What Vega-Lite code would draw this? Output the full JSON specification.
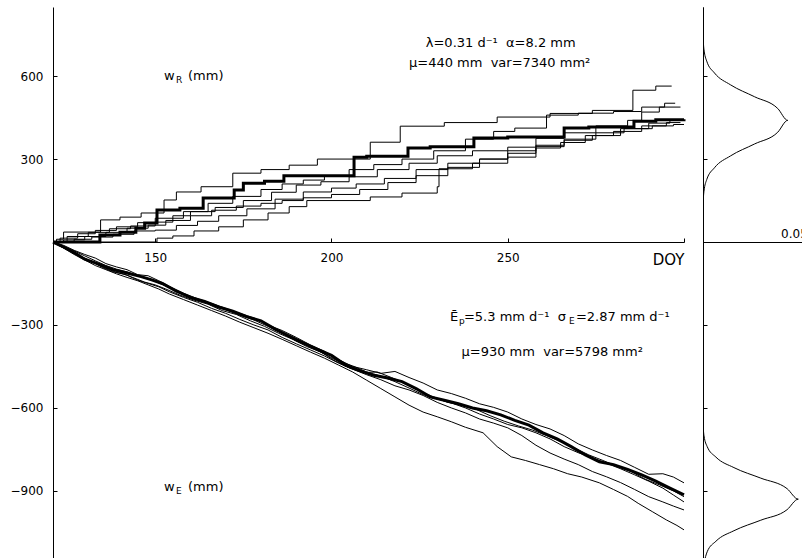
{
  "$schema": "https://vega.github.io/schema/vega-lite/v6.json",
  "autosize": "pad",
  "padding": {"left": 10, "top": 7, "right": 0, "bottom": 0},
  "bounds": "flush",
  "spacing": 19,
  "background": "white",
  "config": {
    "view": {"stroke": null},
    "axis": {"grid": false, "domainColor": "black", "domainWidth": 1, "tickColor": "black", "tickWidth": 1, "labelColor": "black", "labelFont": "DejaVu Sans", "labelFontSize": 12, "labelFlush": false, "labelOverlap": false},
    "text": {"font": "DejaVu Sans", "fontSize": 13, "color": "black"},
    "line": {"color": "black"}
  },
  "datasets": {
    "R": [
      {"s":"R0","d":121,"w":0},{"s":"R0","d":134.3,"w":25},{"s":"R0","d":140,"w":35},{"s":"R0","d":144.5,"w":50},{"s":"R0","d":147,"w":69},{"s":"R0","d":150.5,"w":116},{"s":"R0","d":157,"w":122},{"s":"R0","d":163.6,"w":159},{"s":"R0","d":172.4,"w":188},{"s":"R0","d":175,"w":213},{"s":"R0","d":181,"w":220},{"s":"R0","d":186.5,"w":240},{"s":"R0","d":206.4,"w":307},{"s":"R0","d":210,"w":310},{"s":"R0","d":221.7,"w":340},{"s":"R0","d":228,"w":345},{"s":"R0","d":240.4,"w":376},{"s":"R0","d":250,"w":380},{"s":"R0","d":266,"w":412},{"s":"R0","d":273,"w":416},{"s":"R0","d":285.8,"w":437},{"s":"R0","d":292,"w":442},{"s":"R0","d":300,"w":444},
      {"s":"R1","d":121,"w":0},{"s":"R1","d":122,"w":10},{"s":"R1","d":124,"w":36},{"s":"R1","d":134.5,"w":80},{"s":"R1","d":140,"w":90},{"s":"R1","d":146,"w":105},{"s":"R1","d":152.5,"w":152},{"s":"R1","d":156,"w":181},{"s":"R1","d":163,"w":200},{"s":"R1","d":172,"w":249},{"s":"R1","d":180,"w":262},{"s":"R1","d":188,"w":278},{"s":"R1","d":196,"w":300},{"s":"R1","d":211,"w":361},{"s":"R1","d":219.5,"w":419},{"s":"R1","d":232,"w":432},{"s":"R1","d":247,"w":452},{"s":"R1","d":262,"w":465},{"s":"R1","d":274,"w":476},{"s":"R1","d":285.5,"w":549},{"s":"R1","d":292,"w":564},{"s":"R1","d":296.5,"w":564},
      {"s":"R2","d":121,"w":0},{"s":"R2","d":123,"w":14},{"s":"R2","d":128,"w":30},{"s":"R2","d":133,"w":42},{"s":"R2","d":139,"w":55},{"s":"R2","d":145,"w":70},{"s":"R2","d":150,"w":86},{"s":"R2","d":158,"w":110},{"s":"R2","d":165,"w":140},{"s":"R2","d":172,"w":165},{"s":"R2","d":180,"w":190},{"s":"R2","d":186,"w":210},{"s":"R2","d":192,"w":224},{"s":"R2","d":198,"w":240},{"s":"R2","d":205,"w":262},{"s":"R2","d":212,"w":280},{"s":"R2","d":220,"w":300},{"s":"R2","d":229,"w":330},{"s":"R2","d":238,"w":372},{"s":"R2","d":246,"w":400},{"s":"R2","d":252,"w":412},{"s":"R2","d":261,"w":459},{"s":"R2","d":270,"w":466},{"s":"R2","d":280,"w":472},{"s":"R2","d":288,"w":488},{"s":"R2","d":294.5,"w":502},{"s":"R2","d":297.5,"w":502},
      {"s":"R3","d":121,"w":0},{"s":"R3","d":125,"w":20},{"s":"R3","d":131,"w":35},{"s":"R3","d":137,"w":48},{"s":"R3","d":143,"w":58},{"s":"R3","d":150,"w":72},{"s":"R3","d":155,"w":95},{"s":"R3","d":160,"w":110},{"s":"R3","d":167,"w":125},{"s":"R3","d":175,"w":150},{"s":"R3","d":183,"w":180},{"s":"R3","d":190,"w":206},{"s":"R3","d":197,"w":218},{"s":"R3","d":205,"w":236},{"s":"R3","d":213,"w":262},{"s":"R3","d":222,"w":285},{"s":"R3","d":230,"w":312},{"s":"R3","d":240,"w":330},{"s":"R3","d":250,"w":343},{"s":"R3","d":258,"w":375},{"s":"R3","d":266,"w":395},{"s":"R3","d":275,"w":420},{"s":"R3","d":284,"w":440},{"s":"R3","d":288,"w":470},{"s":"R3","d":293,"w":488},{"s":"R3","d":299,"w":488},
      {"s":"R4","d":121,"w":0},{"s":"R4","d":127,"w":10},{"s":"R4","d":132,"w":18},{"s":"R4","d":138,"w":28},{"s":"R4","d":144,"w":40},{"s":"R4","d":150,"w":43},{"s":"R4","d":156,"w":60},{"s":"R4","d":162,"w":75},{"s":"R4","d":168,"w":95},{"s":"R4","d":176,"w":120},{"s":"R4","d":184,"w":155},{"s":"R4","d":192,"w":181},{"s":"R4","d":200,"w":195},{"s":"R4","d":207,"w":210},{"s":"R4","d":215,"w":230},{"s":"R4","d":224,"w":262},{"s":"R4","d":233,"w":285},{"s":"R4","d":242,"w":300},{"s":"R4","d":250,"w":321},{"s":"R4","d":258,"w":345},{"s":"R4","d":266,"w":368},{"s":"R4","d":274,"w":385},{"s":"R4","d":282,"w":410},{"s":"R4","d":290,"w":430},{"s":"R4","d":296,"w":440},{"s":"R4","d":298,"w":440},
      {"s":"R5","d":121,"w":0},{"s":"R5","d":150,"w":0},{"s":"R5","d":150.5,"w":14},{"s":"R5","d":155,"w":22},{"s":"R5","d":161,"w":40},{"s":"R5","d":168,"w":55},{"s":"R5","d":175,"w":80},{"s":"R5","d":182,"w":105},{"s":"R5","d":188,"w":128},{"s":"R5","d":193,"w":150},{"s":"R5","d":211,"w":163},{"s":"R5","d":220,"w":177},{"s":"R5","d":230,"w":200},{"s":"R5","d":230.5,"w":265},{"s":"R5","d":240,"w":285},{"s":"R5","d":250,"w":307},{"s":"R5","d":258,"w":340},{"s":"R5","d":265,"w":360},{"s":"R5","d":272,"w":385},{"s":"R5","d":280,"w":400},{"s":"R5","d":288,"w":420},{"s":"R5","d":295,"w":432},{"s":"R5","d":299,"w":432},
      {"s":"R6","d":121,"w":0},{"s":"R6","d":124,"w":8},{"s":"R6","d":130,"w":20},{"s":"R6","d":136,"w":35},{"s":"R6","d":142,"w":50},{"s":"R6","d":148,"w":61},{"s":"R6","d":153,"w":78},{"s":"R6","d":160,"w":95},{"s":"R6","d":166,"w":115},{"s":"R6","d":173,"w":130},{"s":"R6","d":180,"w":140},{"s":"R6","d":186,"w":150},{"s":"R6","d":192,"w":160},{"s":"R6","d":200,"w":172},{"s":"R6","d":208,"w":190},{"s":"R6","d":216,"w":215},{"s":"R6","d":224,"w":240},{"s":"R6","d":233,"w":270},{"s":"R6","d":242,"w":300},{"s":"R6","d":250,"w":330},{"s":"R6","d":258,"w":350},{"s":"R6","d":266,"w":372},{"s":"R6","d":275,"w":395},{"s":"R6","d":283,"w":410},{"s":"R6","d":291,"w":420},{"s":"R6","d":297,"w":425},{"s":"R6","d":300,"w":425}
    ],
    "E": [
      {"s":"E0","d":121,"w":0},{"s":"E0","d":124,"w":-18},{"s":"E0","d":127,"w":-38},{"s":"E0","d":130,"w":-62},{"s":"E0","d":134,"w":-80},{"s":"E0","d":138,"w":-100},{"s":"E0","d":142,"w":-112},{"s":"E0","d":146,"w":-125},{"s":"E0","d":149,"w":-137},{"s":"E0","d":152,"w":-150},{"s":"E0","d":156,"w":-178},{"s":"E0","d":160,"w":-200},{"s":"E0","d":164,"w":-215},{"s":"E0","d":168,"w":-235},{"s":"E0","d":172,"w":-250},{"s":"E0","d":176,"w":-270},{"s":"E0","d":180,"w":-285},{"s":"E0","d":184,"w":-315},{"s":"E0","d":188,"w":-340},{"s":"E0","d":192,"w":-365},{"s":"E0","d":196,"w":-388},{"s":"E0","d":200,"w":-410},{"s":"E0","d":204,"w":-445},{"s":"E0","d":208,"w":-465},{"s":"E0","d":212,"w":-482},{"s":"E0","d":216,"w":-492},{"s":"E0","d":220,"w":-505},{"s":"E0","d":224,"w":-530},{"s":"E0","d":228,"w":-560},{"s":"E0","d":232,"w":-572},{"s":"E0","d":236,"w":-585},{"s":"E0","d":240,"w":-600},{"s":"E0","d":244,"w":-610},{"s":"E0","d":248,"w":-625},{"s":"E0","d":252,"w":-645},{"s":"E0","d":256,"w":-662},{"s":"E0","d":260,"w":-690},{"s":"E0","d":264,"w":-712},{"s":"E0","d":268,"w":-740},{"s":"E0","d":272,"w":-770},{"s":"E0","d":276,"w":-795},{"s":"E0","d":280,"w":-805},{"s":"E0","d":284,"w":-822},{"s":"E0","d":288,"w":-842},{"s":"E0","d":292,"w":-865},{"s":"E0","d":296,"w":-890},{"s":"E0","d":300,"w":-914},
      {"s":"E1","d":121,"w":0},{"s":"E1","d":124,"w":-12},{"s":"E1","d":127,"w":-30},{"s":"E1","d":130,"w":-45},{"s":"E1","d":133,"w":-58},{"s":"E1","d":136,"w":-78},{"s":"E1","d":139,"w":-90},{"s":"E1","d":142,"w":-100},{"s":"E1","d":145,"w":-118},{"s":"E1","d":148,"w":-122},{"s":"E1","d":151,"w":-140},{"s":"E1","d":154,"w":-160},{"s":"E1","d":158,"w":-185},{"s":"E1","d":162,"w":-205},{"s":"E1","d":166,"w":-222},{"s":"E1","d":170,"w":-240},{"s":"E1","d":174,"w":-258},{"s":"E1","d":178,"w":-275},{"s":"E1","d":182,"w":-300},{"s":"E1","d":186,"w":-320},{"s":"E1","d":190,"w":-345},{"s":"E1","d":194,"w":-372},{"s":"E1","d":198,"w":-395},{"s":"E1","d":202,"w":-425},{"s":"E1","d":206,"w":-450},{"s":"E1","d":210,"w":-462},{"s":"E1","d":214,"w":-475},{"s":"E1","d":218,"w":-468},{"s":"E1","d":222,"w":-490},{"s":"E1","d":226,"w":-510},{"s":"E1","d":230,"w":-535},{"s":"E1","d":234,"w":-548},{"s":"E1","d":238,"w":-565},{"s":"E1","d":242,"w":-585},{"s":"E1","d":246,"w":-598},{"s":"E1","d":250,"w":-615},{"s":"E1","d":254,"w":-640},{"s":"E1","d":258,"w":-660},{"s":"E1","d":262,"w":-676},{"s":"E1","d":266,"w":-700},{"s":"E1","d":270,"w":-730},{"s":"E1","d":274,"w":-752},{"s":"E1","d":278,"w":-772},{"s":"E1","d":282,"w":-790},{"s":"E1","d":286,"w":-815},{"s":"E1","d":290,"w":-840},{"s":"E1","d":294,"w":-838},{"s":"E1","d":297,"w":-850},{"s":"E1","d":300,"w":-871},
      {"s":"E2","d":121,"w":0},{"s":"E2","d":123,"w":-15},{"s":"E2","d":126,"w":-35},{"s":"E2","d":129,"w":-55},{"s":"E2","d":132,"w":-70},{"s":"E2","d":135,"w":-92},{"s":"E2","d":138,"w":-108},{"s":"E2","d":141,"w":-115},{"s":"E2","d":144,"w":-130},{"s":"E2","d":147,"w":-145},{"s":"E2","d":150,"w":-155},{"s":"E2","d":153,"w":-170},{"s":"E2","d":157,"w":-192},{"s":"E2","d":161,"w":-210},{"s":"E2","d":165,"w":-225},{"s":"E2","d":169,"w":-248},{"s":"E2","d":173,"w":-262},{"s":"E2","d":177,"w":-285},{"s":"E2","d":181,"w":-305},{"s":"E2","d":185,"w":-330},{"s":"E2","d":189,"w":-352},{"s":"E2","d":193,"w":-378},{"s":"E2","d":197,"w":-398},{"s":"E2","d":201,"w":-430},{"s":"E2","d":205,"w":-455},{"s":"E2","d":209,"w":-472},{"s":"E2","d":213,"w":-470},{"s":"E2","d":217,"w":-490},{"s":"E2","d":221,"w":-512},{"s":"E2","d":225,"w":-540},{"s":"E2","d":229,"w":-560},{"s":"E2","d":233,"w":-580},{"s":"E2","d":237,"w":-590},{"s":"E2","d":241,"w":-605},{"s":"E2","d":245,"w":-628},{"s":"E2","d":249,"w":-648},{"s":"E2","d":253,"w":-665},{"s":"E2","d":257,"w":-680},{"s":"E2","d":261,"w":-700},{"s":"E2","d":265,"w":-722},{"s":"E2","d":269,"w":-745},{"s":"E2","d":273,"w":-770},{"s":"E2","d":277,"w":-790},{"s":"E2","d":281,"w":-812},{"s":"E2","d":285,"w":-830},{"s":"E2","d":289,"w":-858},{"s":"E2","d":293,"w":-878},{"s":"E2","d":297,"w":-900},{"s":"E2","d":300,"w":-921},
      {"s":"E3","d":121,"w":0},{"s":"E3","d":124,"w":-20},{"s":"E3","d":127,"w":-42},{"s":"E3","d":130,"w":-58},{"s":"E3","d":133,"w":-78},{"s":"E3","d":136,"w":-95},{"s":"E3","d":139,"w":-110},{"s":"E3","d":142,"w":-120},{"s":"E3","d":145,"w":-138},{"s":"E3","d":148,"w":-150},{"s":"E3","d":151,"w":-162},{"s":"E3","d":154,"w":-180},{"s":"E3","d":158,"w":-200},{"s":"E3","d":162,"w":-218},{"s":"E3","d":166,"w":-240},{"s":"E3","d":170,"w":-258},{"s":"E3","d":174,"w":-280},{"s":"E3","d":178,"w":-300},{"s":"E3","d":182,"w":-318},{"s":"E3","d":186,"w":-345},{"s":"E3","d":190,"w":-368},{"s":"E3","d":194,"w":-390},{"s":"E3","d":198,"w":-412},{"s":"E3","d":202,"w":-438},{"s":"E3","d":206,"w":-460},{"s":"E3","d":210,"w":-480},{"s":"E3","d":214,"w":-498},{"s":"E3","d":218,"w":-520},{"s":"E3","d":222,"w":-535},{"s":"E3","d":226,"w":-555},{"s":"E3","d":230,"w":-580},{"s":"E3","d":234,"w":-600},{"s":"E3","d":238,"w":-618},{"s":"E3","d":242,"w":-640},{"s":"E3","d":246,"w":-655},{"s":"E3","d":250,"w":-672},{"s":"E3","d":254,"w":-700},{"s":"E3","d":258,"w":-735},{"s":"E3","d":262,"w":-763},{"s":"E3","d":266,"w":-785},{"s":"E3","d":270,"w":-805},{"s":"E3","d":274,"w":-830},{"s":"E3","d":278,"w":-849},{"s":"E3","d":282,"w":-870},{"s":"E3","d":286,"w":-895},{"s":"E3","d":290,"w":-921},{"s":"E3","d":294,"w":-940},{"s":"E3","d":297,"w":-955},{"s":"E3","d":300,"w":-969},
      {"s":"E4","d":121,"w":0},{"s":"E4","d":124,"w":-22},{"s":"E4","d":127,"w":-45},{"s":"E4","d":130,"w":-65},{"s":"E4","d":133,"w":-85},{"s":"E4","d":136,"w":-100},{"s":"E4","d":139,"w":-115},{"s":"E4","d":142,"w":-128},{"s":"E4","d":145,"w":-140},{"s":"E4","d":148,"w":-155},{"s":"E4","d":151,"w":-170},{"s":"E4","d":154,"w":-188},{"s":"E4","d":158,"w":-208},{"s":"E4","d":162,"w":-228},{"s":"E4","d":166,"w":-248},{"s":"E4","d":170,"w":-268},{"s":"E4","d":174,"w":-290},{"s":"E4","d":178,"w":-310},{"s":"E4","d":182,"w":-330},{"s":"E4","d":186,"w":-352},{"s":"E4","d":190,"w":-375},{"s":"E4","d":194,"w":-398},{"s":"E4","d":198,"w":-420},{"s":"E4","d":202,"w":-445},{"s":"E4","d":206,"w":-470},{"s":"E4","d":210,"w":-500},{"s":"E4","d":214,"w":-530},{"s":"E4","d":218,"w":-560},{"s":"E4","d":222,"w":-590},{"s":"E4","d":226,"w":-615},{"s":"E4","d":230,"w":-632},{"s":"E4","d":234,"w":-650},{"s":"E4","d":238,"w":-670},{"s":"E4","d":243,"w":-690},{"s":"E4","d":247,"w":-740},{"s":"E4","d":251,"w":-777},{"s":"E4","d":255,"w":-790},{"s":"E4","d":259,"w":-805},{"s":"E4","d":263,"w":-820},{"s":"E4","d":267,"w":-838},{"s":"E4","d":271,"w":-850},{"s":"E4","d":276,"w":-871},{"s":"E4","d":280,"w":-895},{"s":"E4","d":284,"w":-920},{"s":"E4","d":287,"w":-945},{"s":"E4","d":291,"w":-975},{"s":"E4","d":295,"w":-1005},{"s":"E4","d":298,"w":-1025},{"s":"E4","d":300,"w":-1041},
      {"s":"E5","d":121,"w":0},{"s":"E5","d":124,"w":-15},{"s":"E5","d":127,"w":-32},{"s":"E5","d":130,"w":-50},{"s":"E5","d":133,"w":-68},{"s":"E5","d":136,"w":-85},{"s":"E5","d":139,"w":-98},{"s":"E5","d":142,"w":-108},{"s":"E5","d":145,"w":-122},{"s":"E5","d":148,"w":-132},{"s":"E5","d":151,"w":-148},{"s":"E5","d":154,"w":-165},{"s":"E5","d":158,"w":-188},{"s":"E5","d":162,"w":-208},{"s":"E5","d":166,"w":-228},{"s":"E5","d":170,"w":-245},{"s":"E5","d":174,"w":-265},{"s":"E5","d":178,"w":-282},{"s":"E5","d":182,"w":-305},{"s":"E5","d":186,"w":-330},{"s":"E5","d":190,"w":-358},{"s":"E5","d":194,"w":-380},{"s":"E5","d":198,"w":-405},{"s":"E5","d":202,"w":-432},{"s":"E5","d":206,"w":-448},{"s":"E5","d":210,"w":-470},{"s":"E5","d":214,"w":-485},{"s":"E5","d":218,"w":-505},{"s":"E5","d":222,"w":-528},{"s":"E5","d":226,"w":-552},{"s":"E5","d":230,"w":-568},{"s":"E5","d":234,"w":-582},{"s":"E5","d":238,"w":-600},{"s":"E5","d":242,"w":-622},{"s":"E5","d":246,"w":-640},{"s":"E5","d":250,"w":-660},{"s":"E5","d":254,"w":-672},{"s":"E5","d":258,"w":-690},{"s":"E5","d":262,"w":-712},{"s":"E5","d":266,"w":-740},{"s":"E5","d":270,"w":-762},{"s":"E5","d":274,"w":-780},{"s":"E5","d":278,"w":-800},{"s":"E5","d":282,"w":-820},{"s":"E5","d":286,"w":-842},{"s":"E5","d":290,"w":-865},{"s":"E5","d":294,"w":-890},{"s":"E5","d":297,"w":-915},{"s":"E5","d":300,"w":-940}
    ],
    "P": [
      {"g":"R","w":0,"p":0},{"g":"R","w":97.2,"p":0.0000156},{"g":"R","w":140.05,"p":0.0001},{"g":"R","w":182.9,"p":0.00052},{"g":"R","w":225.75,"p":0.00205},{"g":"R","w":268.6,"p":0.00631},{"g":"R","w":311.45,"p":0.01513},{"g":"R","w":354.3,"p":0.02826},{"g":"R","w":397.15,"p":0.04112},{"g":"R","w":440,"p":0.0466},{"g":"R","w":482.85,"p":0.04112},{"g":"R","w":525.7,"p":0.02826},{"g":"R","w":568.55,"p":0.01513},{"g":"R","w":611.4,"p":0.00631},{"g":"R","w":654.25,"p":0.00205},{"g":"R","w":697.1,"p":0.00052},{"g":"R","w":739.95,"p":0.0001},{"g":"R","w":782.8,"p":0.0000156},{"g":"R","w":850,"p":0},
      {"g":"E","w":-1158.3,"p":0.00058},{"g":"E","w":-1120.25,"p":0.0023},{"g":"E","w":-1082.2,"p":0.00709},{"g":"E","w":-1044.15,"p":0.01701},{"g":"E","w":-1006.1,"p":0.03178},{"g":"E","w":-968.05,"p":0.04624},{"g":"E","w":-930,"p":0.0524},{"g":"E","w":-891.95,"p":0.04624},{"g":"E","w":-853.9,"p":0.03178},{"g":"E","w":-815.85,"p":0.01701},{"g":"E","w":-777.8,"p":0.00709},{"g":"E","w":-739.75,"p":0.0023},{"g":"E","w":-701.7,"p":0.00058},{"g":"E","w":-663.65,"p":0.000115},{"g":"E","w":-625.6,"p":0.0000176},{"g":"E","w":0,"p":0}
    ]
  },
  "hconcat": [
    {
      "width": 631,
      "height": 553,
      "layer": [
        {"data": {"name": "R"}, "transform": [{"filter": "datum.s != 'R0'"}], "mark": {"type": "line", "interpolate": "step-after", "strokeWidth": 1, "color": "black"},
          "encoding": {
            "x": {"field": "d", "type": "quantitative", "scale": {"domain": [121, 300], "nice": false, "zero": false},
              "axis": {"orient": "bottom", "offset": -318, "values": [150, 200, 250, 300], "tickSize": -4, "labelPadding": 14, "title": null,
                "labelExpr": "datum.value == 300 ? 'DOY' : datum.label",
                "labelAlign": {"condition": {"test": "datum.value == 300", "value": "right"}, "value": "center"},
                "labelFontSize": {"condition": {"test": "datum.value == 300", "value": 15}, "value": 12}}},
            "y": {"field": "w", "type": "quantitative", "scale": {"domain": [-1150, 850], "nice": false, "zero": false},
              "axis": {"values": [600, 300, -300, -600, -900], "tickSize": -4, "labelPadding": 14, "title": null}},
            "detail": {"field": "s"}
          }},
        {"data": {"name": "E"}, "transform": [{"filter": "datum.s != 'E0'"}], "mark": {"type": "line", "strokeWidth": 1, "color": "black"},
          "encoding": {"x": {"field": "d", "type": "quantitative"}, "y": {"field": "w", "type": "quantitative"}, "detail": {"field": "s"}}},
        {"data": {"name": "R"}, "transform": [{"filter": "datum.s == 'R0'"}], "mark": {"type": "line", "interpolate": "step-after", "strokeWidth": 3, "color": "black"},
          "encoding": {"x": {"field": "d", "type": "quantitative"}, "y": {"field": "w", "type": "quantitative"}}},
        {"data": {"name": "E"}, "transform": [{"filter": "datum.s == 'E0'"}], "mark": {"type": "line", "strokeWidth": 3, "color": "black"},
          "encoding": {"x": {"field": "d", "type": "quantitative"}, "y": {"field": "w", "type": "quantitative"}}},
        {"data": {"values": [{}]}, "mark": {"type": "text", "text": "w", "align": "left", "baseline": "middle"}, "encoding": {"x": {"datum": 152.5, "type": "quantitative"}, "y": {"datum": 600, "type": "quantitative"}}},
        {"data": {"values": [{}]}, "mark": {"type": "text", "text": "R", "align": "left", "baseline": "middle", "fontSize": 9, "dx": 12, "dy": 4}, "encoding": {"x": {"datum": 152.5, "type": "quantitative"}, "y": {"datum": 600, "type": "quantitative"}}},
        {"data": {"values": [{}]}, "mark": {"type": "text", "text": "(mm)", "align": "left", "baseline": "middle", "dx": 24}, "encoding": {"x": {"datum": 152.5, "type": "quantitative"}, "y": {"datum": 600, "type": "quantitative"}}},
        {"data": {"values": [{}]}, "mark": {"type": "text", "text": "w", "align": "left", "baseline": "middle"}, "encoding": {"x": {"datum": 152.5, "type": "quantitative"}, "y": {"datum": -885, "type": "quantitative"}}},
        {"data": {"values": [{}]}, "mark": {"type": "text", "text": "E", "align": "left", "baseline": "middle", "fontSize": 9, "dx": 12, "dy": 4}, "encoding": {"x": {"datum": 152.5, "type": "quantitative"}, "y": {"datum": -885, "type": "quantitative"}}},
        {"data": {"values": [{}]}, "mark": {"type": "text", "text": "(mm)", "align": "left", "baseline": "middle", "dx": 24}, "encoding": {"x": {"datum": 152.5, "type": "quantitative"}, "y": {"datum": -885, "type": "quantitative"}}},
        {"data": {"values": [{}]}, "mark": {"type": "text", "text": "λ=0.31 d⁻¹ \u00a0α=8.2 mm", "align": "center", "baseline": "middle"}, "encoding": {"x": {"datum": 248, "type": "quantitative"}, "y": {"datum": 719, "type": "quantitative"}}},
        {"data": {"values": [{}]}, "mark": {"type": "text", "text": "μ=440 mm \u00a0var=7340 mm²", "align": "center", "baseline": "middle"}, "encoding": {"x": {"datum": 247.7, "type": "quantitative"}, "y": {"datum": 647, "type": "quantitative"}}},
        {"data": {"values": [{}]}, "mark": {"type": "text", "text": "Ē", "align": "left", "baseline": "middle"}, "encoding": {"x": {"datum": 233.6, "type": "quantitative"}, "y": {"datum": -271, "type": "quantitative"}}},
        {"data": {"values": [{}]}, "mark": {"type": "text", "text": "p", "align": "left", "baseline": "middle", "fontSize": 9, "dx": 9, "dy": 4}, "encoding": {"x": {"datum": 233.6, "type": "quantitative"}, "y": {"datum": -271, "type": "quantitative"}}},
        {"data": {"values": [{}]}, "mark": {"type": "text", "text": "=5.3 mm d⁻¹ \u00a0σ", "align": "left", "baseline": "middle", "dx": 14}, "encoding": {"x": {"datum": 233.6, "type": "quantitative"}, "y": {"datum": -271, "type": "quantitative"}}},
        {"data": {"values": [{}]}, "mark": {"type": "text", "text": "E", "align": "left", "baseline": "middle", "fontSize": 9, "dx": 119, "dy": 4}, "encoding": {"x": {"datum": 233.6, "type": "quantitative"}, "y": {"datum": -271, "type": "quantitative"}}},
        {"data": {"values": [{}]}, "mark": {"type": "text", "text": "=2.87 mm d⁻¹", "align": "left", "baseline": "middle", "dx": 126}, "encoding": {"x": {"datum": 233.6, "type": "quantitative"}, "y": {"datum": -271, "type": "quantitative"}}},
        {"data": {"values": [{}]}, "mark": {"type": "text", "text": "μ=930 mm \u00a0var=5798 mm²", "align": "center", "baseline": "middle"}, "encoding": {"x": {"datum": 262.6, "type": "quantitative"}, "y": {"datum": -398, "type": "quantitative"}}}
      ]
    },
    {
      "width": 100,
      "height": 553,
      "data": {"name": "P"},
      "mark": {"type": "line", "interpolate": "monotone", "orient": "vertical", "color": "black", "strokeWidth": 1, "clip": true},
      "encoding": {
        "x": {"field": "p", "type": "quantitative", "scale": {"domain": [0, 0.055], "nice": false},
          "axis": {"orient": "top", "offset": -235, "values": [0.05], "ticks": false, "labelPadding": 2, "format": ".2f", "title": null}},
        "y": {"field": "w", "type": "quantitative", "scale": {"domain": [-1150, 850], "nice": false, "zero": false},
          "axis": {"values": [600, 300, -300, -600, -900], "labels": false, "tickSize": -4, "title": null}},
        "detail": {"field": "g"},
        "order": {"field": "w"}
      }
    }
  ]
}
